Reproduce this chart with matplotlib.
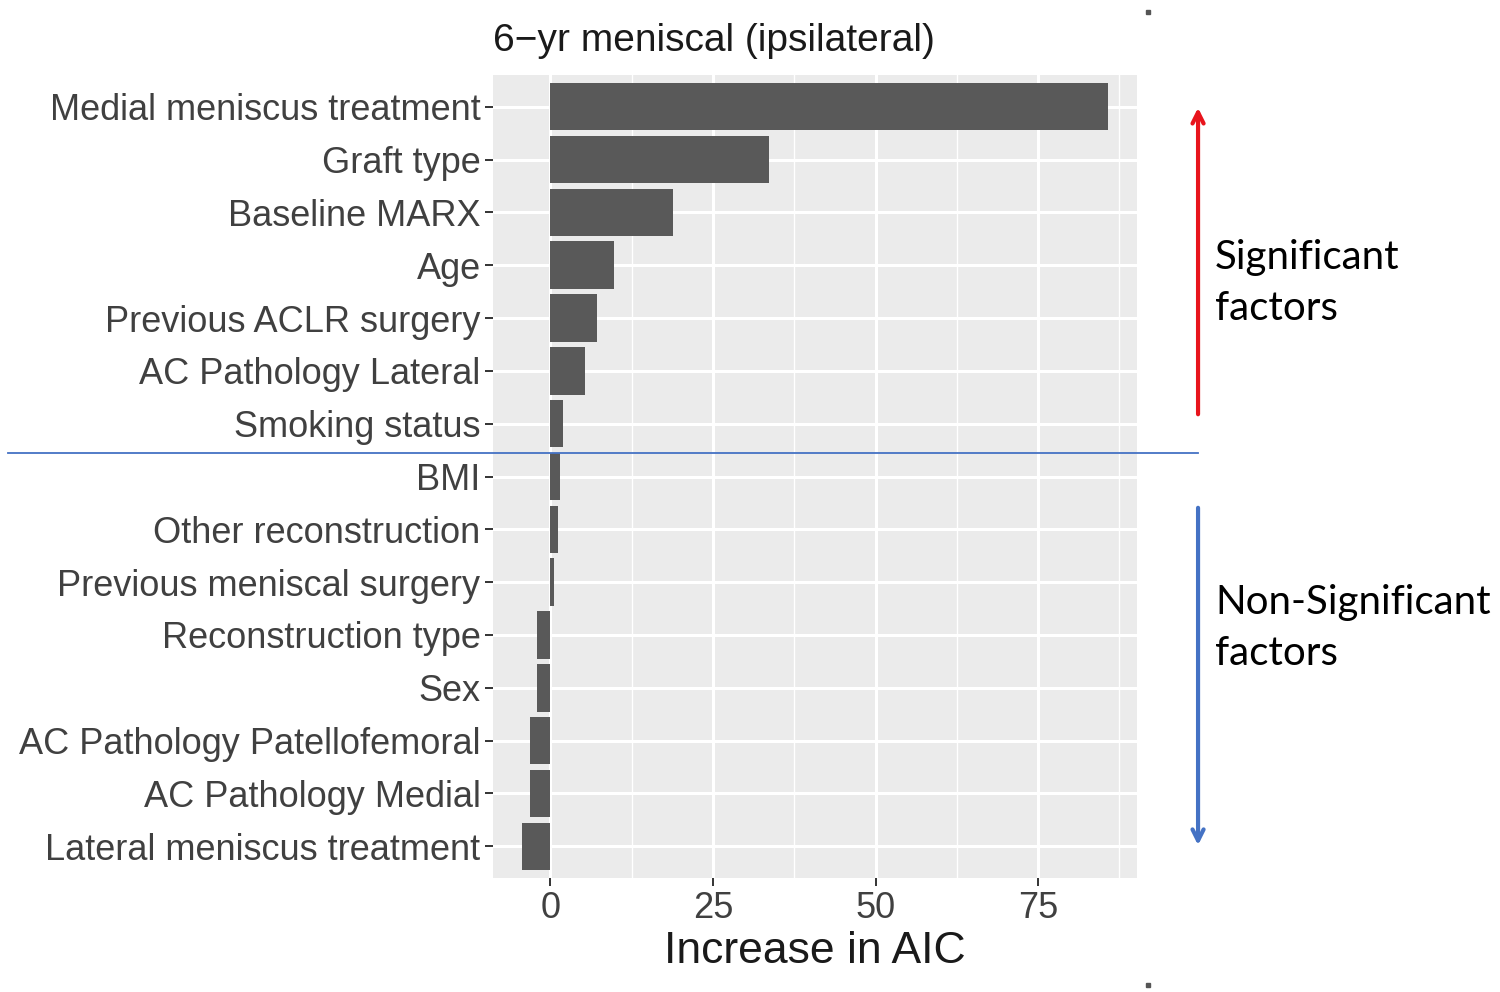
import matplotlib
matplotlib.use('Agg')
import matplotlib.pyplot as plt
from matplotlib.ticker import MultipleLocator
import numpy as np

# 데이터
factors = ['Medial meniscus treatment', 'Graft type', 'Baseline MARX', 'Age',
           'Previous ACLR surgery', 'AC Pathology Lateral', 'Smoking status',
           'BMI', 'Other reconstruction', 'Previous meniscal surgery',
           'Reconstruction type', 'Sex', 'AC Pathology Patellofemoral',
           'AC Pathology Medial', 'Lateral meniscus treatment']
aic_increase = [85.7, 33.7, 18.8, 9.8, 7.2, 5.4, 2.0,
                1.5, 1.2, 0.6, -2.0, -2.0, -3.1, -3.1, -4.3]
x_ticks = [0, 25, 50, 75]

fig = plt.figure(figsize=(15, 9.92), dpi=100)
ax = fig.add_axes([0.3287, 0.1149, 0.4293, 0.8095])

ypos = np.arange(len(factors))
ax.barh(ypos, aic_increase, height=0.9, color='#595959', zorder=3)

ax.set_facecolor('#EBEBEB')
for s in ax.spines.values():
    s.set_visible(False)

lo, hi = min(aic_increase), max(aic_increase)
pad = (hi - lo) * 0.05
ax.set_xlim(lo - pad, hi + pad)
ax.set_ylim(len(factors) - 0.4, -0.6)

ax.set_xticks(x_ticks)
ax.xaxis.set_minor_locator(MultipleLocator(12.5))
ax.set_yticks(ypos)
ax.set_yticklabels(factors)

ax.grid(which='major', color='white', lw=2.2, zorder=0)
ax.grid(which='minor', axis='x', color='white', lw=1.0, zorder=0)
ax.tick_params(axis='both', which='major', length=6, width=1.4, color='#333333',
               labelsize=26, labelcolor='#404040', pad=3)
ax.tick_params(axis='x', which='minor', length=0)
for lab in ax.get_xticklabels() + ax.get_yticklabels():
    lab.set_family('Liberation Sans')

ax.set_xlabel('Increase in AIC', fontsize=32, family='Liberation Sans',
              color='#1a1a1a', labelpad=4)
ax.text(0.0, 1.02, '6\u2212yr meniscal (ipsilateral)', transform=ax.transAxes,
        ha='left', va='bottom', fontsize=28, family='Liberation Sans',
        color='#1a1a1a', weight='medium')

# 구분선과 화살표
fig.add_artist(plt.Line2D([0.0053, 0.7987], [0.5433, 0.5433],
                          color='#4472c4', lw=1.3))
ax.annotate('', xy=(0.7987, 0.8942), xytext=(0.7987, 0.5796),
            xycoords='figure fraction', textcoords='figure fraction',
            arrowprops=dict(arrowstyle='->,head_length=0.8,head_width=0.4',
                            color='#e8141c', lw=3))
ax.annotate('', xy=(0.7987, 0.1452), xytext=(0.7987, 0.4909),
            xycoords='figure fraction', textcoords='figure fraction',
            arrowprops=dict(arrowstyle='->,head_length=0.8,head_width=0.4',
                            color='#4472c4', lw=3))

fig.text(0.81, 0.7147, 'Significant\nfactors', ha='left', va='center',
         fontsize=29, family='Lato', color='black', linespacing=1.45)
fig.text(0.81, 0.367, 'Non-Significant\nfactors', ha='left', va='center',
         fontsize=29, family='Lato', color='black', linespacing=1.45)

# 이미지 가장자리의 작은 점
fig.add_artist(plt.Line2D([0.7653], [0.988], marker='s', ms=3,
                          color='#555555', lw=0))
fig.add_artist(plt.Line2D([0.7653], [0.007], marker='s', ms=3,
                          color='#555555', lw=0))

fig.savefig('out.png', dpi=100, facecolor='white')
